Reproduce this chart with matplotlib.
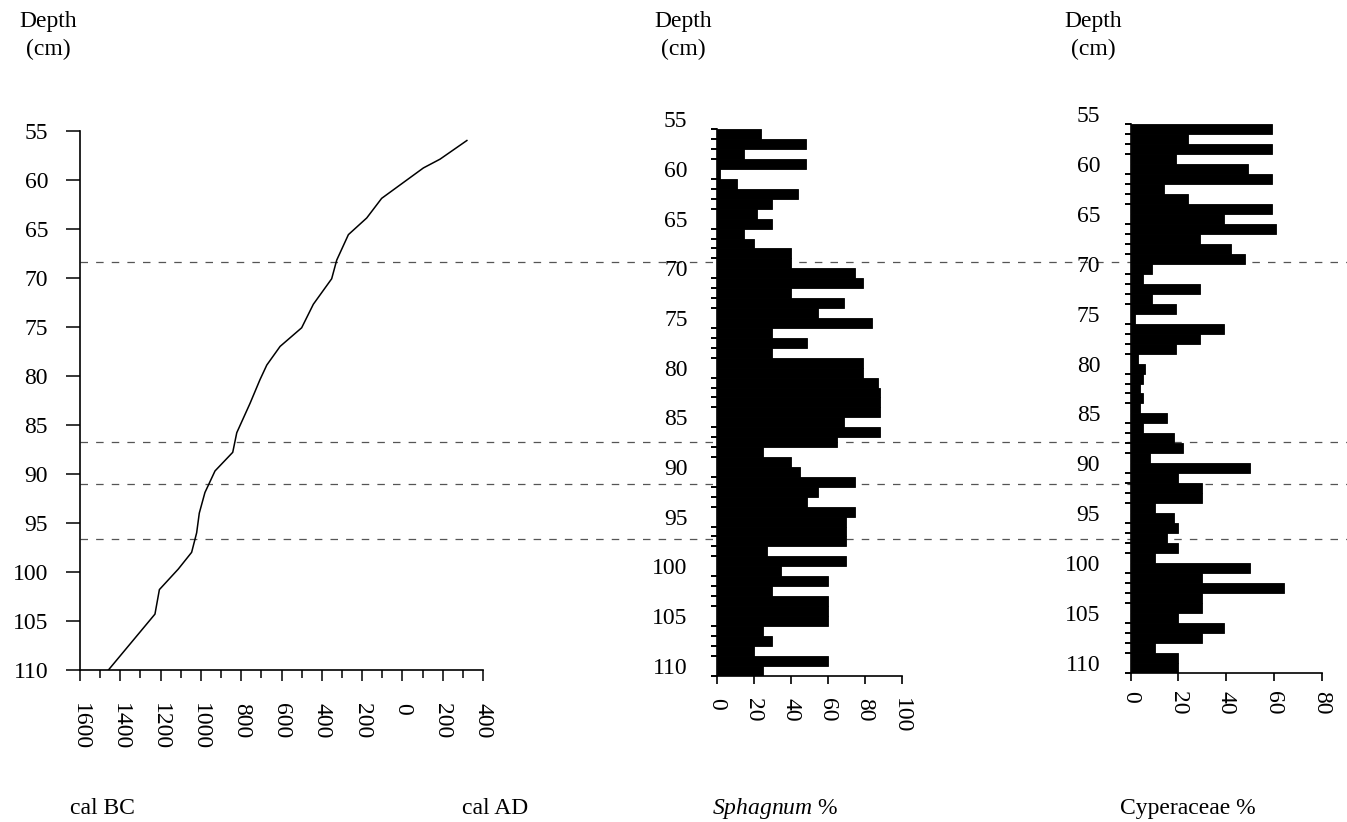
import matplotlib
matplotlib.use("Agg")
import matplotlib.pyplot as plt
import matplotlib.transforms as mtransforms
from matplotlib.lines import Line2D
from matplotlib.ticker import MultipleLocator, FixedLocator

plt.rcParams['font.family'] = ['Liberation Serif', 'DejaVu Serif']
plt.rcParams['mathtext.fontset'] = 'custom'
plt.rcParams['mathtext.rm'] = 'Liberation Serif'
plt.rcParams['mathtext.it'] = 'Liberation Serif:italic'

# age-depth model, negative years are cal BC
model_depth = [56.0, 57.9, 58.8, 61.9, 63.9, 65.6, 68.2, 70.1, 72.7, 75.1, 77.0, 78.9,
               80.4, 82.8, 85.8, 87.8, 89.7, 91.9, 94.0, 96.0, 98.0, 99.7, 101.8, 104.3, 110.0]
model_age = [320, 187, 104, -103, -177, -268, -326, -351, -442, -500, -607, -673,
             -707, -756, -822, -842, -930, -980, -1008, -1021, -1046, -1112, -1206, -1228, -1459]

age_ticks = [-1600, -1400, -1200, -1000, -800, -600, -400, -200, 0, 200, 400]
age_labels = ['1600', '1400', '1200', '1000', '800', '600', '400', '200', '0', '200', '400']

# 1 cm samples, each value is for the slice below the top depth
sample_depth = list(range(56, 111))
sphagnum = [24, 48, 15, 48, 2, 11, 44, 30, 22, 30, 15, 20, 40, 40, 75, 79, 40, 69, 55, 84,
            30, 49, 30, 79, 79, 87, 88, 88, 88, 69, 88, 65, 25, 40, 45, 75, 55, 49, 75, 70,
            70, 70, 27, 70, 35, 60, 30, 60, 60, 60, 25, 30, 20, 60, 25]
cyperaceae = [59, 24, 59, 19, 49, 59, 14, 24, 59, 39, 61, 29, 42, 48, 9, 5, 29, 9, 19, 2,
              39, 29, 19, 3, 6, 5, 4, 5, 4, 15, 5, 18, 22, 8, 50, 20, 30, 30, 10, 18,
              20, 15, 20, 10, 50, 30, 64, 30, 30, 20, 39, 30, 10, 20, 20]

# zone boundaries
zone_depth = [68.4, 86.7, 91.0, 96.6]

W, H = 1347, 822
fig = plt.figure(figsize=(W / 100, H / 100), dpi=100)


def add_axes(x0, y0, x1, y1):
    ax = fig.add_axes([x0 / W, 1 - y1 / H, (x1 - x0) / W, (y1 - y0) / H])
    ax.patch.set_visible(False)
    ax.spines[['top', 'right']].set_visible(False)
    for s in ('left', 'bottom'):
        ax.spines[s].set_linewidth(1.2)
    return ax


ax_age = add_axes(80, 130.7, 483, 670)
ax_sph = add_axes(716.7, 119.4, 901.7, 675.5)
ax_cyp = add_axes(1130.7, 114, 1321.7, 673)

# age-depth curve
ax_age.plot(model_age, model_depth, color='black', lw=1.1)
ax_age.set_xlim(-1600, 400)
ax_age.set_ylim(110, 55)
ax_age.set_xticks(age_ticks)
ax_age.set_xticklabels(age_labels, rotation=270)
ax_age.xaxis.set_minor_locator(MultipleLocator(100))
ax_age.set_yticks(range(55, 111, 5))
ax_age.tick_params(axis='y', length=10, width=1.1, pad=13, labelsize=17)
ax_age.tick_params(axis='x', which='major', length=8, width=1.1, pad=16, labelsize=17)
ax_age.tick_params(axis='x', which='minor', length=6, width=1.1)


def bar_panel(ax, values, xmax, step, ypad, xpad):
    ax.barh([d + 0.5 for d in sample_depth], values, height=1.0,
            color='black', edgecolor='black', lw=0.6)
    ax.set_xlim(0, xmax)
    ax.set_ylim(111, 55)
    ax.spines['left'].set_bounds(56, 111)
    ax.set_yticks(range(55, 111, 5))
    ax.yaxis.set_minor_locator(FixedLocator(range(56, 112)))
    ax.tick_params(axis='y', which='major', length=0, pad=ypad, labelsize=17)
    ax.tick_params(axis='y', which='minor', length=4, width=1.4)
    ax.set_xticks(range(0, xmax + 1, step))
    ax.tick_params(axis='x', length=6, width=1.2, pad=xpad, labelsize=17, labelrotation=270)


bar_panel(ax_sph, sphagnum, 100, 20, 21, 10)
bar_panel(ax_cyp, cyperaceae, 80, 20, 22, 7)

# dashed zone lines running across all panels
trans = mtransforms.blended_transform_factory(fig.transFigure, ax_age.transData)
for z in zone_depth:
    fig.add_artist(Line2D([80 / W, 1.0], [z, z], transform=trans, color='#555555',
                          lw=0.9, ls=(0, (6, 6.5)), zorder=-1))

# headings and axis titles
for x in (48, 683, 1093):
    fig.text(x / W, 1 - 11 / H, 'Depth\n(cm)', ha='center', va='top',
             multialignment='center', fontsize=17, linespacing=1.45)

fig.text(70 / W, 1 - 808 / H, 'cal BC', ha='left', va='center', fontsize=17)
fig.text(462 / W, 1 - 808 / H, 'cal AD', ha='left', va='center', fontsize=17)
fig.text(712 / W, 1 - 808 / H, r'$\mathit{Sphagnum}$ %', ha='left', va='center', fontsize=17)
fig.text(1120 / W, 1 - 808 / H, 'Cyperaceae %', ha='left', va='center', fontsize=17)

fig.savefig('out.png', dpi=100)
